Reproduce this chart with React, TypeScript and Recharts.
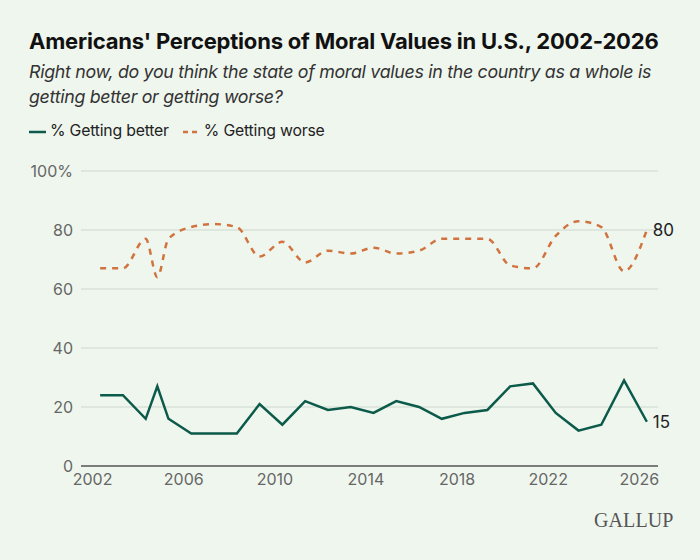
import { LineChart, Line, XAxis, YAxis, CartesianGrid, ReferenceLine } from "recharts";

// survey dates as decimal years (May fieldwork, plus an extra Nov 2004 reading)
const surveyDates = [
  2002.33, 2003.33, 2004.33, 2004.84, 2005.33, 2006.33, 2007.33, 2008.33, 2009.33,
  2010.33, 2011.33, 2012.33, 2013.33, 2014.33, 2015.33, 2016.33, 2017.33, 2018.33,
  2019.33, 2020.33, 2021.33, 2022.33, 2023.33, 2024.33, 2025.33, 2026.33,
];
const gettingBetter = [
  24, 24, 16, 27, 16, 11, 11, 11, 21, 14, 22, 19, 20, 18, 22, 20, 16, 18, 19, 27, 28,
  18, 12, 14, 29, 15,
];
const gettingWorse = [
  67, 67, 77, 64, 77, 81, 82, 81, 71, 76, 69, 73, 72, 74, 72, 73, 77, 77, 77, 68, 67,
  78, 83, 81, 66, 80,
];
const yearTicks = [2002, 2006, 2010, 2014, 2018, 2022, 2026];
const valueTicks = [0, 20, 40, 60, 80, 100];

const data = surveyDates.map((d, i) => ({
  date: d,
  better: gettingBetter[i],
  worse: gettingWorse[i],
}));

const BG = "#eff6ee";
const GREEN = "#0b5a4a";
const ORANGE = "#d1733f";
const FONT = "Inter, 'Noto Sans', sans-serif";

function EndLabel(props: any) {
  const { x, y, index, value } = props;
  if (index !== data.length - 1) return null;
  return (
    <text x={x + 6} y={y} dy="0.35em" fontSize={17} fill="#222" fontFamily={FONT}>
      {value}
    </text>
  );
}

export default function App() {
  const tickStyle = { fontSize: 16, fill: "#666", fontFamily: FONT };

  return (
    <div
      style={{
        position: "absolute",
        top: 0,
        left: 0,
        width: 700,
        height: 560,
        background: BG,
        fontFamily: FONT,
        overflow: "hidden",
      }}
    >
      <div
        style={{
          position: "absolute",
          left: 29,
          top: 28,
          fontSize: 22,
          fontWeight: 700,
          color: "#111",
          letterSpacing: -0.2,
          whiteSpace: "nowrap",
        }}
      >
        Americans' Perceptions of Moral Values in U.S., 2002-2026
      </div>
      <div
        style={{
          position: "absolute",
          left: 29,
          top: 59,
          width: 660,
          fontSize: 17.8,
          fontStyle: "italic",
          color: "#333",
          lineHeight: "25px",
          letterSpacing: -0.3,
        }}
      >
        Right now, do you think the state of moral values in the country as a whole is
        <br />
        getting better or getting worse?
      </div>

      {/* legend */}
      <div
        style={{
          position: "absolute",
          left: 29,
          top: 121,
          display: "flex",
          alignItems: "center",
          fontSize: 15.8,
          color: "#222",
          letterSpacing: -0.2,
        }}
      >
        <svg width={17} height={10} style={{ marginRight: 4 }}>
          <line x1={0} y1={6} x2={17} y2={6} stroke={GREEN} strokeWidth={2.5} />
        </svg>
        <span style={{ marginRight: 14 }}>% Getting better</span>
        <svg width={17} height={10} style={{ marginRight: 4 }}>
          <line
            x1={0}
            y1={6}
            x2={17}
            y2={6}
            stroke={ORANGE}
            strokeWidth={2.5}
            strokeDasharray="5 4"
          />
        </svg>
        <span>% Getting worse</span>
      </div>

      <div style={{ position: "absolute", left: 0, top: 150 }}>
        <LineChart
          width={700}
          height={350}
          data={data}
          margin={{ top: 21, right: 42, left: 0, bottom: 0 }}
        >
          <CartesianGrid vertical={false} stroke="#d8e2d8" strokeWidth={1.5} />
          <XAxis
            dataKey="date"
            type="number"
            domain={[2001.49, 2026.82]}
            ticks={yearTicks}
            tick={tickStyle}
            tickLine={false}
            axisLine={false}
            height={34}
            allowDataOverflow
          />
          <YAxis
            domain={[0, 100]}
            ticks={valueTicks}
            tick={tickStyle}
            tickLine={false}
            axisLine={false}
            width={81}
            tickFormatter={(v: number) => (v === 100 ? "100%" : `${v}`)}
          />
          <ReferenceLine y={0} stroke="#5a5a5a" strokeWidth={1.5} />
          <Line
            type="monotone"
            dataKey="worse"
            stroke={ORANGE}
            strokeWidth={2.5}
            strokeDasharray="6 6"
            dot={false}
            isAnimationActive={false}
            label={<EndLabel />}
          />
          <Line
            type="linear"
            dataKey="better"
            stroke={GREEN}
            strokeWidth={2.5}
            dot={false}
            isAnimationActive={false}
            label={<EndLabel />}
          />
        </LineChart>
      </div>

      <div
        style={{
          position: "absolute",
          left: 594,
          top: 509,
          fontFamily: "'Liberation Serif', 'DejaVu Serif', serif",
          fontSize: 20,
          color: "#555",
          letterSpacing: 0.1,
        }}
      >
        GALLUP
      </div>
    </div>
  );
}
